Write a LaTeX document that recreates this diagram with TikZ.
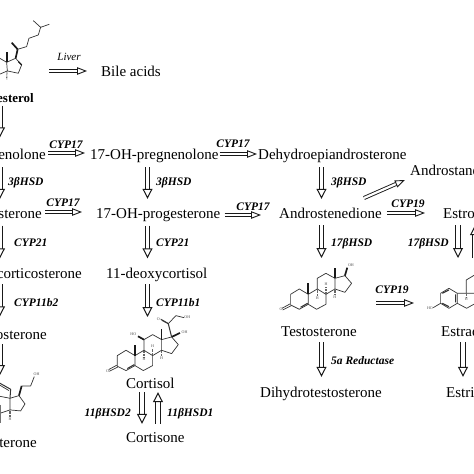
\documentclass[tikz,border=0pt]{standalone}
\usepackage{fontspec}
\setmainfont{Liberation Serif}
\usetikzlibrary{arrows.meta}
\tikzset{
  met/.style={inner sep=0pt,text height=11.5pt,text depth=1.5pt,font=\fontsize{15}{15}\selectfont},
  enz/.style={inner sep=0pt,text height=8pt,text depth=0pt,font=\fontsize{11.5}{12}\selectfont\bfseries\itshape},
  harrow/.style={draw=black!90,line width=1pt,double=white,double distance=3.4pt,
    -{Triangle[open,fill=white,length=10pt,width=10pt,line width=1pt]}},
  flatarrow/.style={draw=black!90,line width=0.9pt,double=white,double distance=2.2pt,
    -{Triangle[open,fill=white,length=10pt,width=7.5pt,line width=0.9pt]}},
  bond/.style={draw=black!80,line width=0.7pt,line join=round},
  wedgeb/.style={draw=black!90,line width=1.7pt},
  hash/.style={draw=black!60,line width=1.2pt,dash pattern=on 0.7pt off 0.7pt},
  tiny/.style={inner sep=0pt,text=black!70,font=\fontsize{4}{4}\selectfont},
}
% common tetracyclic skeleton, local coordinates (3 units = 1 px); #1 = name prefix
\newcommand{\steroidcore}[1]{%
  \draw[bond] (62,150)--(62,118)--(88,102)--(115,118)--(115,148)--(88,163)--cycle;
  \draw[bond] (115,118)--(142,102)--(168,118)--(168,148)--(140,163)--(115,148);
  \draw[bond] (142,102)--(142,70)--(168,55)--(195,70)--(195,102)--(168,118);
  \draw[bond] (195,70)--(225,62)--(245,85)--(225,112)--(195,102);
  \draw[bond,line width=1.1pt] (92,157)--(113,145);
  \draw[bond] (64,152)--(38,165) (60,147)--(36,160);
  \node[tiny] (#1o) at (33,164) {O};
  \draw[wedgeb] (115,118)--(115,85);
  \draw[wedgeb] (195,70)--(195,38);
  \draw[hash] (142,104)--(142,124);
  \draw[hash] (168,116)--(168,96);
  \draw[hash] (195,104)--(195,120);
  \node[tiny] (#1h1) at (142,130) {H};
  \node[tiny] (#1h2) at (168,89) {H};
  \node[tiny] (#1h3) at (195,126) {H};
}
\begin{document}
\begin{tikzpicture}[x=1pt,y=-1pt]
\useasboundingbox (0,0) rectangle (474,474);
\fill[white] (0,0) rectangle (474,474);
\clip (0,0) rectangle (474,474);
% column guides
\coordinate (c1) at (0,0);
\coordinate (c2) at (147.5,0);
\coordinate (c3) at (321.5,0);
\coordinate (c4) at (458,0);
\coordinate (c5) at (475,0);
\coordinate (c6) at (463,0);
% metabolites
\node[inner sep=0pt,font=\fontsize{13}{13}\selectfont\bfseries,anchor=east] (chol) at (34,98) {Cholesterol};
\node[met,anchor=west] (bile) at (101,71) {Bile acids};
\node[met,anchor=east] (preg) at (46,154) {Pregnenolone};
\node[met,anchor=west] (ohpreg) at (90,154) {17-OH-pregnenolone};
\node[met,anchor=west] (dhea) at (258,154) {Dehydroepiandrosterone};
\node[met,anchor=east] (prog) at (42,213) {Progesterone};
\node[met,anchor=west] (ohprog) at (96,213) {17-OH-progesterone};
\node[met,anchor=west] (andro) at (279,213) {Androstenedione};
\node[met,anchor=west] (andan) at (410,170) {Androstanedione};
\node[met,anchor=west] (estrone) at (443,213) {Estrone};
\node[met,anchor=east] (doc) at (82,273) {11-deoxycorticosterone};
\node[met,anchor=west] (dcort) at (106,273) {11-deoxycortisol};
\node[met,anchor=east] (cortico) at (47,334) {Corticosterone};
\node[met,anchor=east] (aldo) at (37,442) {Aldosterone};
\node[met,anchor=west] (cortisol) at (126,383) {Cortisol};
\node[met,anchor=west] (cortisone) at (126,437) {Cortisone};
\node[met,anchor=west] (testo) at (281,331) {Testosterone};
\node[met,anchor=west] (estradiol) at (441,331) {Estradiol};
\node[met,anchor=west] (dht) at (260,392) {Dihydrotestosterone};
\node[met,anchor=west] (estriol) at (446,392) {Estriol};
% enzymes
\node[inner sep=0pt,font=\fontsize{11}{12}\selectfont\itshape] (liver) at (69,57) {Liver};
\node[enz] (e1) at (66,144) {CYP17};
\node[enz] (e2) at (233,143) {CYP17};
\node[enz] (e3) at (63,202) {CYP17};
\node[enz] (e4) at (253,206) {CYP17};
\node[enz] (e5) at (408,203) {CYP19};
\node[enz] (e6) at (392,289) {CYP19};
\node[enz,anchor=west] (e7) at (8,181) {3βHSD};
\node[enz,anchor=west] (e8) at (156,181) {3βHSD};
\node[enz,anchor=west] (e9) at (331,181) {3βHSD};
\node[enz,anchor=west] (e10) at (331,242) {17βHSD};
\node[enz,anchor=east] (e11) at (449,242) {17βHSD};
\node[enz,anchor=west] (e12) at (14,242) {CYP21};
\node[enz,anchor=west] (e13) at (156,242) {CYP21};
\node[enz,anchor=west] (e14) at (14,302) {CYP11b2};
\node[enz,anchor=west] (e15) at (156,302) {CYP11b1};
\node[enz,anchor=east] (e16) at (131,412) {11βHSD2};
\node[enz,anchor=west] (e17) at (167,412) {11βHSD1};
\node[enz,anchor=west] (e18) at (331,360) {5a Reductase};
% free ends at the drawn structures
\coordinate (sT) at (321.5,258);
\coordinate (sE) at (458,258);
\coordinate (sU) at (475,258);
\coordinate (sC) at (147.5,317);
\coordinate (sA) at (0,375);
\coordinate (sCh) at (49,71);
\coordinate (t1) at (376,303);
\coordinate (t2) at (414,303);
\coordinate (dg) at (405,180);
\coordinate (dg0) at (364,198);
% vertical arrows
\draw[harrow,shorten <=3pt,shorten >=10pt] (chol.south -| c1) -- (preg.north -| c1);
\draw[harrow,shorten <=6.5pt,shorten >=7.5pt] (preg.south -| c1) -- (prog.north -| c1);
\draw[harrow,shorten <=6.5pt,shorten >=7.5pt] (ohpreg.south -| c2) -- (ohprog.north -| c2);
\draw[harrow,shorten <=6.5pt,shorten >=7.5pt] (dhea.south -| c3) -- (andro.north -| c3);
\draw[harrow,shorten <=6pt,shorten >=8pt] (prog.south -| c1) -- (doc.north -| c1);
\draw[harrow,shorten <=6pt,shorten >=8pt] (ohprog.south -| c2) -- (dcort.north -| c2);
\draw[harrow,shorten <=4.5pt,shorten >=11pt] (doc.south -| c1) -- (cortico.north -| c1);
\draw[harrow,shorten <=4.5pt] (dcort.south -| c2) -- (sC);
\draw[harrow,shorten <=3.5pt] (cortico.south -| c1) -- (sA);
\draw[harrow,shorten <=5.5pt] (andro.south -| c3) -- (sT);
\draw[harrow,shorten <=5.5pt] (estrone.south -| c4) -- (sE);
\draw[harrow,shorten >=5.5pt] (sU) -- (estrone.south -| c5);
\draw[harrow,shorten <=4.5pt,shorten >=8.5pt] (testo.south -| c3) -- (dht.north -| c3);
\draw[harrow,shorten <=4.5pt,shorten >=8.5pt] (estradiol.south -| c6) -- (estriol.north -| c6);
\coordinate (h1) at (142,0);
\coordinate (h2) at (158,0);
\draw[harrow,shorten <=2.5pt,shorten >=6.5pt] (cortisol.south -| h1) -- (cortisone.north -| h1);
\draw[harrow,shorten <=6.5pt,shorten >=2.5pt] (cortisone.north -| h2) -- (cortisol.south -| h2);
% horizontal arrows
\draw[flatarrow,shorten >=14pt] (sCh) -- (bile.west);
\draw[flatarrow,shorten <=2pt,shorten >=5pt] ([yshift=1pt]preg.east) -- ([yshift=1pt]ohpreg.west);
\draw[flatarrow,shorten <=1pt,shorten >=1pt] (ohpreg.east) -- (dhea.west);
\draw[flatarrow,shorten <=3pt,shorten >=14pt] ([yshift=1pt]prog.east) -- ([yshift=1pt]ohprog.west);
\draw[flatarrow,shorten <=4pt,shorten >=18pt] ([yshift=-2pt]ohprog.east) -- ([yshift=-2pt]andro.west);
\draw[flatarrow,shorten <=5pt,shorten >=18pt] (andro.east) -- (estrone.west);
\draw[flatarrow] (t1) -- (t2);
\draw[flatarrow] (dg0) -- (dg);
% Testosterone
\begin{scope}[shift={(270,255)},x=0.333pt,y=-0.333pt]
  \steroidcore{t}
  \draw[wedgeb] (225,62)--(232,38);
  \node[tiny] (toh) at (243,31) {OH};
\end{scope}
% Cortisol
\begin{scope}[shift={(96.7,316.3)},x=0.333pt,y=-0.333pt]
  \steroidcore{c}
  \draw[wedgeb] (142,70)--(124,60);
  \node[tiny] (coh1) at (110,55) {HO};
  \draw[wedgeb] (225,62)--(250,50);
  \node[tiny] (coh2) at (264,48) {OH};
  \draw[bond,line width=1pt] (225,62)--(215,22);
  \draw[bond] (217,24)--(195,12) (213,20)--(192,8);
  \node[tiny] (co3) at (185,8) {O};
  \draw[bond] (215,22)--(238,-2)--(262,4);
  \node[tiny] (coh3) at (272,4) {OH};
\end{scope}
% Cholesterol
\begin{scope}[shift={(0,0)},x=0.333pt,y=-0.333pt]
  \draw[bond] (-6,172)--(20,187)--(47,175)--(65,195)--(55,220)--(22,213)--(20,187);
  \draw[bond] (22,213)--(-6,225);
  \draw[wedgeb] (20,187)--(20,155);
  \draw[hash] (21,215)--(20,238);
  \draw[wedgeb] (47,175)--(53,148);
  \draw[wedgeb,line width=1.2pt] (65,195)--(55,185);
  \draw[bond] (53,148)--(80,140)--(87,115)--(115,105)--(122,82)--(100,62);
  \draw[bond] (122,82)--(148,73);
  \draw[wedgeb] (53,148)--(35,128);
\end{scope}
% Aldosterone
\begin{scope}[shift={(0,330)},x=0.333pt,y=-0.333pt]
  \draw[bond] (-6,198)--(30,205)--(57,197)--(75,222)--(62,243)--(30,240)--(30,205);
  \draw[bond] (30,240)--(-6,252);
  \draw[bond,line width=1pt] (30,205)--(32,178)--(0,160);
  \draw[bond] (27,182)--(0,166);
  \draw[wedgeb] (57,197)--(65,168);
  \draw[bond] (65,168)--(92,168)--(103,140);
  \node[tiny] (aoh) at (110,133) {OH};
  \draw[hash] (30,242)--(30,260);
  \node[tiny] (ah1) at (30,268) {H};
  \draw[draw=black!55,line width=2.5pt] (0,225)--(0,280);
\end{scope}
% Estradiol
\begin{scope}[shift={(404,260)},x=0.333pt,y=-0.333pt]
  \draw[bond] (110,130)--(110,100)--(135,85)--(160,100)--(160,130)--(135,145)--cycle;
  \draw[bond,line width=1.1pt] (115,100)--(135,90) (115,130)--(135,140) (155,103)--(155,127);
  \draw[bond] (110,130)--(88,143);
  \node[tiny] (eoh) at (78,144) {HO};
  \draw[bond] (160,130)--(188,145)--(215,130)--(215,100)--(187,100)--(160,100);
  \draw[bond] (187,100)--(187,60)--(212,45)--(240,60)--(240,85)--(215,100);
  \draw[hash] (187,102)--(187,112);
  \node[tiny] (eh1) at (187,118) {H};
\end{scope}
\end{tikzpicture}
\end{document}
